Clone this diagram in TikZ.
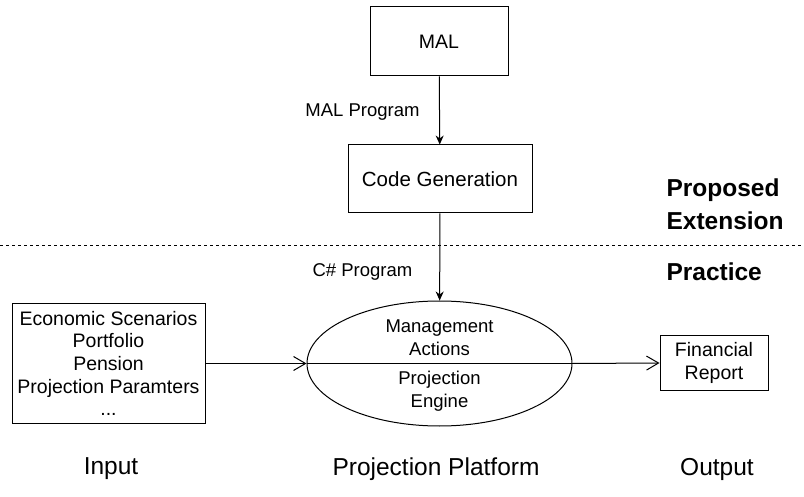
\documentclass[tikz,border=0pt]{standalone}
\usepackage{fontspec}
\setmainfont{Liberation Sans}
\usetikzlibrary{arrows.meta,shapes.geometric,positioning}

\begin{document}
\begin{tikzpicture}[x=1pt,y=-1pt,
    box/.style={draw,rectangle,line width=1pt,align=center,font=\fontsize{19.5}{22.7}\selectfont},
    lbl/.style={font=\fontsize{18.5}{22}\selectfont},
    side/.style={font=\fontsize{24.5}{33}\selectfont\bfseries,align=left,anchor=west},
    foot/.style={font=\fontsize{24.5}{28}\selectfont},
    flow/.style={-{Stealth[length=9pt,width=8pt]},line width=1pt},
    feed/.style={-{Straight Barb[length=12pt,width=14pt]},line width=1pt}]
  \useasboundingbox (0,0) rectangle (804,497);

  %proposed extension
  \node[box,minimum width=138pt,minimum height=69pt] (mal) at (439,41.5) {MAL};
  \node[box,minimum width=184pt,minimum height=68pt,font=\fontsize{20.5}{24}\selectfont] (codegen) at (440,179) {Code Generation};
  \draw[flow] (mal) -- (codegen);
  \node[lbl] (malprog) at (362.5,112) {MAL Program};

  \draw[dashed,line width=1pt] (0,246) coordinate (cutl) -- (804,246) coordinate (cutr);
  \node[side] (ext) at (663,204) {Proposed\\Extension};
  \node[side] (prac) at (663,272) {Practice};

  %practice
  \node[draw,ellipse,line width=1pt,minimum width=265pt,minimum height=125pt] (engine) at (439.5,363.5) {};
  \draw[line width=1pt] (engine.west) -- (engine.east);
  \node[box,draw=none,font=\fontsize{18.5}{23}\selectfont] (mgmt) at (439.5,337.5) {Management\\Actions};
  \node[box,draw=none,font=\fontsize{18.5}{23}\selectfont] (proj) at (439.5,391.5) {Projection\\Engine};
  \draw[flow] (codegen) -- (engine);
  \node[lbl] (csprog) at (362.5,272) {C\# Program};

  \node[box,minimum width=193pt,minimum height=120pt] (input) at (108.5,363.5)
    {Economic Scenarios\\Portfolio\\Pension\\Projection Paramters\\...};
  \node[box,minimum width=108pt,minimum height=54pt] (report) at (714,363) {Financial\\Report};
  \draw[feed] (input.east) -- (engine.west);
  \draw[feed] (engine.east) -- (report.west);

  %columns
  \node[foot] (colin) at (111,469) {Input};
  \node[foot] (colplat) at (436,469) {Projection Platform};
  \node[foot] (colout) at (717,469) {Output};
\end{tikzpicture}
\end{document}
